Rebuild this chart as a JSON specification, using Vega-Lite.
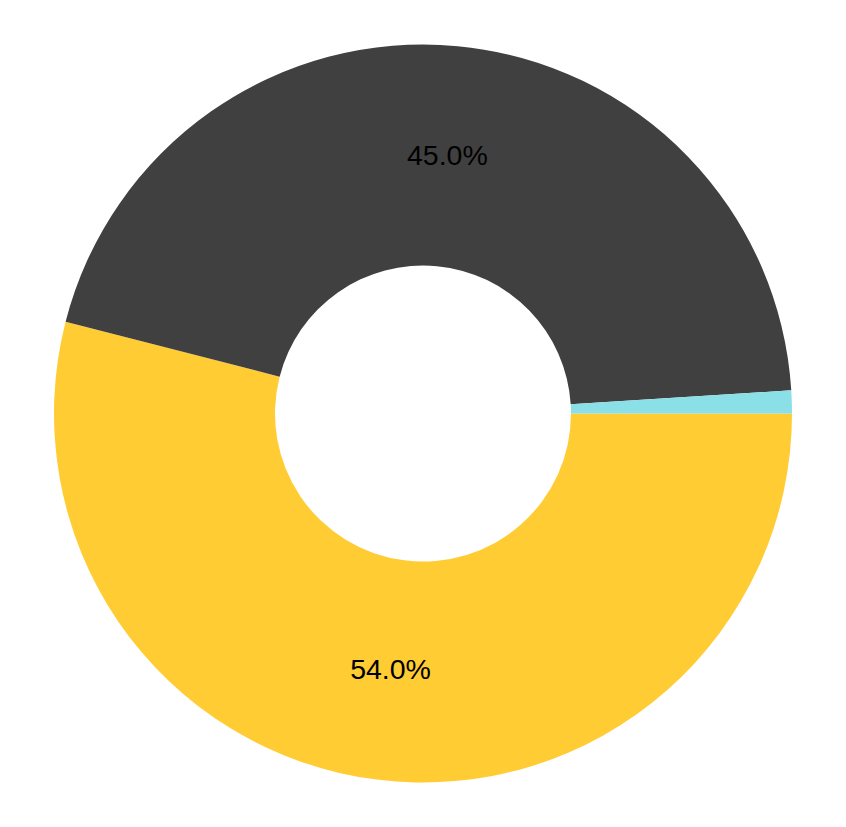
{
  "$schema": "https://vega.github.io/schema/vega-lite/v6.json",
  "width": 846,
  "height": 827,
  "padding": 0,
  "autosize": {"type": "none"},
  "background": "white",
  "view": {"stroke": null},
  "data": {"values": [
    {"category": "C", "share": 0.54, "o": 1},
    {"category": "B", "share": 0.45, "o": 2},
    {"category": "A", "share": 0.01, "o": 3}
  ]},
  "encoding": {
    "theta": {"field": "share", "type": "quantitative", "stack": true, "scale": {"range": [1.5707963, 7.8539816]}},
    "order": {"field": "o", "type": "quantitative"}
  },
  "layer": [
    {
      "mark": {"type": "arc", "outerRadius": 369, "innerRadius": 148},
      "encoding": {
        "color": {"field": "category", "type": "nominal", "legend": null,
          "scale": {"domain": ["A", "B", "C"], "range": ["#8BE0E8", "#404040", "#FFCC33"]}}
      }
    },
    {
      "mark": {"type": "text", "radius": 259, "font": "Liberation Sans", "fontSize": 28.5, "color": "black", "align": "center", "baseline": "middle"},
      "encoding": {
        "text": {"field": "share", "type": "quantitative", "format": ".1%"},
        "opacity": {"condition": {"test": "datum.share < 0.02", "value": 0}, "value": 1}
      }
    }
  ]
}
